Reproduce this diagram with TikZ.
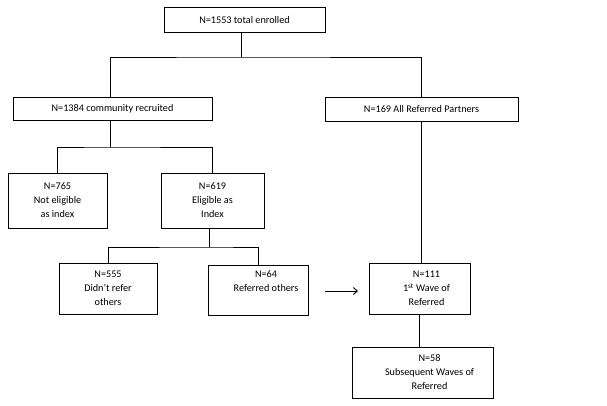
\documentclass[tikz,border=0pt]{standalone}
\usepackage{fontspec}
\setmainfont{Carlito}
\usetikzlibrary{arrows.meta}
\begin{document}
\begin{tikzpicture}[x=1pt,y=-1pt,
  box/.style={draw, line width=0.9pt, inner sep=0pt, align=center,
    font=\fontsize{10.2}{14}\selectfont},
  conn/.style={line width=0.9pt}]
\useasboundingbox (0,0) rectangle (607,406);
\node[box, minimum width=161pt, minimum height=25pt] (top) at (244.5,19.5) {N=1553 total enrolled};
\node[box, minimum width=199pt, minimum height=23pt] (comm) at (112.5,108.5) {N=1384 community recruited};
\node[box, minimum width=193pt, minimum height=24pt] (ref) at (421.5,109) {N=169 All Referred Partners};
\node[box, minimum width=99pt, minimum height=55pt] (ne) at (57.5,200.5) {N=765\\Not eligible\\as index};
\node[box, minimum width=103pt, minimum height=55pt] (el) at (212.5,200.5) {N=619\\Eligible as\\Index};
\node[box, minimum width=98pt, minimum height=51pt] (nr) at (108,288.5) {N=555\\Didn’t refer\\others};
\node[box, minimum width=100pt, minimum height=50pt] (ro) at (258,290) {\hspace*{16pt}N=64\\\hspace*{16pt}Referred others\\\strut};
\node[box, minimum width=101pt, minimum height=51pt] (w1) at (419.5,288.5) {\hspace*{14pt}N=111\\\hspace*{14pt}1\textsuperscript{st} Wave of\\\hspace*{14pt}Referred};
\node[box, minimum width=141pt, minimum height=51pt] (sw) at (422.5,372.5) {\hspace*{14pt}N=58\\\hspace*{14pt}Subsequent Waves of\\\hspace*{14pt}Referred};
\coordinate (j1) at (241,57);
\coordinate (j2) at (110,147);
\coordinate (j3) at (209,247);
\coordinate (a1) at (325,291);
\coordinate (a2) at (358,291);
\draw[conn] (top.south -| j1) -- (j1);
\draw[conn] (comm.north -| j2) |- (j1) -| (ref.north);
\draw[conn] (comm.south -| j2) -- (j2);
\draw[conn] (ne.north) |- (j2) -| (el.north);
\draw[conn] (el.south -| j3) -- (j3);
\draw[conn] (nr.north) |- (j3) -| (ro.north);
\draw[conn] (ref.south) -- (w1.north -| ref.south);
\draw[conn] (w1.south) -- (sw.north -| w1.south);
\draw[conn, -{Straight Barb[length=4pt,width=7pt]}] (a1) -- (a2);
\end{tikzpicture}
\end{document}
